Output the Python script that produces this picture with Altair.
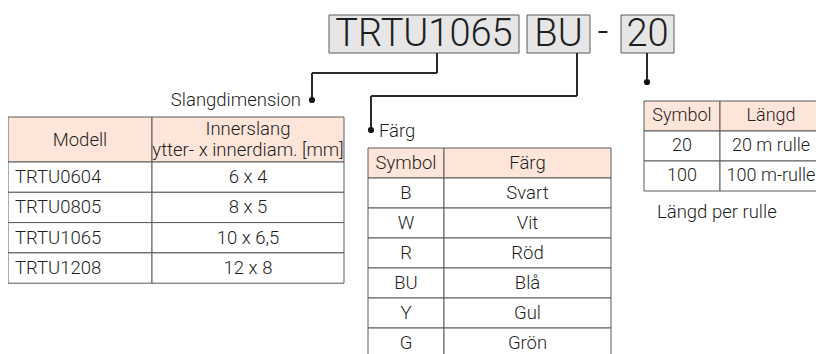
import altair as alt
import pandas as pd

# ---- data (text content) ----
code_parts = ["TRTU1065", "BU", "20"]
code_sep = "-"
label_dim = "Slangdimension"
label_color = "Färg"
label_length = "Längd per rulle"

t1_head = ["Modell", "Innerslang|ytter- x innerdiam. [mm]"]
t1_models = ["TRTU0604", "TRTU0805", "TRTU1065", "TRTU1208"]
t1_dims = ["6 x 4", "8 x 5", "10 x 6,5", "12 x 8"]

t2_head = ["Symbol", "Färg"]
t2_symbols = ["B", "W", "R", "BU", "Y", "G"]
t2_colors = ["Svart", "Vit", "Röd", "Blå", "Gul", "Grön"]

t3_head = ["Symbol", "Längd"]
t3_symbols = ["20", "100"]
t3_lengths = ["20 m rulle", "100 m-rulle"]

# ---- layout (page pixel coordinates) ----
W, H = 808, 346
PEACH = "#fde5d9"
BOXFILL = "#e6e6e6"
GRID = "#5a5a5a"
INK = "#1e1e1e"
FONT = "Roboto"
FS = 18.5

rects, texts_c, texts_l, texts_r, big, segs, dots = [], [], [], [], [], [], []


def table(xs, head_y, head_h, row_h, head, col1, col2, left_first=False, two_line_head=False, fs=FS):
    y = head_y
    for i in range(2):
        rects.append(dict(x=xs[i], x2=xs[i + 1], y=y, y2=y + head_h, fill=PEACH))
        if two_line_head and "|" in head[i]:
            a, b = head[i].split("|")
            texts_c.append(dict(x=(xs[i] + xs[i + 1]) / 2, y=y + head_h * 0.25 + 1, t=a, s=fs))
            texts_c.append(dict(x=(xs[i] + xs[i + 1]) / 2, y=y + head_h * 0.73, t=b, s=fs))
        else:
            texts_c.append(dict(x=(xs[i] + xs[i + 1]) / 2, y=y + head_h / 2, t=head[i], s=fs))
    y += head_h
    for a, b in zip(col1, col2):
        for i in range(2):
            rects.append(dict(x=xs[i], x2=xs[i + 1], y=y, y2=y + row_h, fill="#ffffff"))
        if left_first:
            texts_l.append(dict(x=xs[0] + 7, y=y + row_h / 2, t=a, s=fs))
        else:
            texts_c.append(dict(x=(xs[0] + xs[1]) / 2, y=y + row_h / 2, t=a, s=fs))
        texts_c.append(dict(x=(xs[1] + xs[2]) / 2, y=y + row_h / 2, t=b, s=fs))
        y += row_h


table([8, 152, 344], 117, 45, 30.3, t1_head, t1_models, t1_dims, left_first=True, two_line_head=True)
table([368, 444, 611], 148, 30, 30, t2_head, t2_symbols, t2_colors)
table([644, 720, 822], 101, 30, 30, t3_head, t3_symbols, t3_lengths, fs=18)

# code boxes
box_x = [(329, 519), (527, 590), (621, 674)]
for (a, b), t in zip(box_x, code_parts):
    rects.append(dict(x=a, x2=b, y=15, y2=53, fill=BOXFILL))
    big.append(dict(x=(a + b) / 2, y=35, t=t, s=38))
big.append(dict(x=603, y=33, t=code_sep, s=38))

# connectors
def path(pts):
    for (x1, y1), (x2, y2) in zip(pts[:-1], pts[1:]):
        segs.append(dict(x=x1, y=y1, x2=x2, y2=y2))
    dots.append(dict(x=pts[-1][0], y=pts[-1][1]))


path([(437, 53), (437, 73), (312, 73), (312, 100)])
path([(577, 53), (577, 96), (371, 96), (371, 130)])
path([(647, 53), (647, 82)])

texts_r.append(dict(x=301, y=100, t=label_dim, s=FS))
texts_l.append(dict(x=379, y=131, t=label_color, s=FS))
texts_l.append(dict(x=657, y=212, t=label_length, s=FS))

xs = alt.Scale(domain=[8, 8 + W], nice=False, zero=False)
ys = alt.Scale(domain=[8, 8 + H], nice=False, zero=False, reverse=True)

rect_layer = alt.Chart(pd.DataFrame(rects)).mark_rect(stroke=GRID, strokeWidth=1).encode(
    x=alt.X("x:Q", scale=xs, axis=None),
    x2="x2:Q",
    y=alt.Y("y:Q", scale=ys, axis=None),
    y2="y2:Q",
    fill=alt.Fill("fill:N", scale=None),
)

seg_layer = alt.Chart(pd.DataFrame(segs)).mark_rule(color="#2a2a2a", strokeWidth=2).encode(
    x=alt.X("x:Q", scale=xs, axis=None), x2="x2:Q",
    y=alt.Y("y:Q", scale=ys, axis=None), y2="y2:Q",
)

dot_layer = alt.Chart(pd.DataFrame(dots)).mark_circle(size=38, color="#111111", opacity=1).encode(
    x=alt.X("x:Q", scale=xs, axis=None), y=alt.Y("y:Q", scale=ys, axis=None)
)


def text_layer(rows, align, weight=300):
    return alt.Chart(pd.DataFrame(rows)).mark_text(
        align=align, baseline="middle", font=FONT, fontWeight=weight, color=INK
    ).encode(
        x=alt.X("x:Q", scale=xs, axis=None),
        y=alt.Y("y:Q", scale=ys, axis=None),
        text="t:N",
        size=alt.Size("s:Q", scale=None, legend=None),
    )


chart = alt.layer(
    rect_layer,
    seg_layer,
    dot_layer,
    text_layer(texts_c, "center"),
    text_layer(texts_l, "left"),
    text_layer(texts_r, "right"),
    text_layer(big, "center"),
).properties(
    width=W, height=H, autosize=alt.AutoSizeParams(type="none"), padding=0
).configure_view(stroke=None)

chart.save("out.html", embed_options={"renderer": "svg", "actions": False})
